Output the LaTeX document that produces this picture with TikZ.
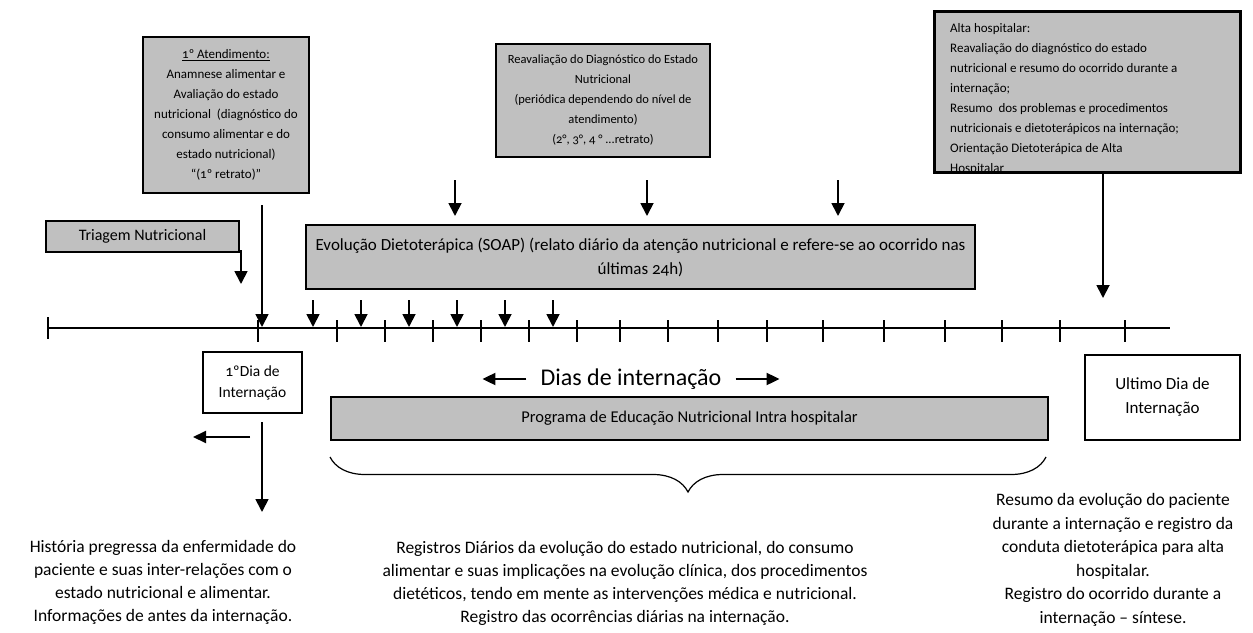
\documentclass[tikz,border=0pt]{standalone}
\usepackage{fontspec}
\setmainfont{Carlito}[Numbers=OldStyle]
\usetikzlibrary{arrows.meta,decorations.pathreplacing}
\tikzset{
  gbox/.style={draw=black,fill=boxgray,line width=1.6pt,inner sep=0pt,align=center},
  wbox/.style={draw=black,fill=white,line width=1.4pt,inner sep=0pt,align=center},
  varrow/.style={line width=1.8pt,-{Triangle[width=13pt,length=13pt]}},
  harrow/.style={line width=2pt,-{Triangle[width=12pt,length=13pt]}},
  tline/.style={line width=1.8pt},
  tick/.style={line width=1.6pt},
  plain/.style={align=center,inner sep=0pt},
}
\definecolor{boxgray}{HTML}{C0C0C0}
\begin{document}
\begin{tikzpicture}[x=1pt,y=-1pt]
\useasboundingbox (0,0) rectangle (1253,632);

% --- top boxes
\node[gbox,minimum width=166pt,minimum height=156pt,font=\fontsize{13}{20}\selectfont] (aten) at (226,115)
 {\underline{1º Atendimento:}\\Anamnese alimentar e\\Avaliação do estado\\nutricional~ (diagnóstico do\\consumo alimentar e do\\estado nutricional)\\“(1º retrato)”};

\node[gbox,minimum width=214pt,minimum height=113pt,font=\fontsize{12.5}{20}\selectfont] (reav) at (603,100.5)
 {Reavaliação do Diagnóstico do Estado\\Nutricional\\(periódica dependendo do nível de\\atendimento)\\(2°, 3°, 4 ° ...retrato)};

\node[gbox,minimum width=305pt,minimum height=160pt] (alta) at (1087.5,92) {};
\begin{scope}
\clip (alta.south west) rectangle (alta.north east);
\node[anchor=north west,align=left,inner sep=0pt,font=\fontsize{13}{20}\selectfont] (altatext) at (950,23)
 {Alta hospitalar:\\Reavaliação do diagnóstico do estado\\nutricional e resumo do ocorrido durante a\\internação;\\Resumo~ dos problemas e procedimentos\\nutricionais e dietoterápicos na internação;\\Orientação Dietoterápica de Alta\\Hospitalar};
\end{scope}
\draw[line width=1.6pt] (alta.south west) rectangle (alta.north east);

\node[gbox,minimum width=193pt,minimum height=31pt,font=\fontsize{16}{18}\selectfont] (triag) at (142.5,236.5) {Triagem Nutricional};

\node[gbox,minimum width=669pt,minimum height=64pt,font=\fontsize{17}{24}\selectfont] (evol) at (640.5,257)
 {Evolução Dietoterápica (SOAP) (relato diário da atenção nutricional e refere-se ao ocorrido nas\\últimas 24h)};

% --- timeline
\coordinate (t0) at (48,328);
\coordinate (t1) at (1170,328);
\draw[tline] (t0) -- (t1);
\draw[tick] (48,317) -- (48,339);
\foreach \x in {258,337,385,433,481,529,577,620,668,718,767,823,884,945,1002,1060,1125}
  \draw[tick] (\x,320) -- (\x,342);

% arrows onto timeline
\coordinate (atenA) at (262,205); \coordinate (atenB) at (262,327);
\draw[varrow] (atenA) -- (atenB);
\coordinate (triA) at (241,250); \coordinate (triB) at (241,284);
\draw[varrow] (triA) -- (triB);
\foreach \x in {313,361,409,457,505,553}
  \draw[varrow] (\x,300) -- (\x,327);
\foreach \x in {455,647,838}
  \draw[varrow] (\x,180) -- (\x,216);
\coordinate (altaB) at (1103,298);
\draw[varrow] (alta.south -| altaB) -- (altaB);

% --- below the timeline
\node[wbox,minimum width=99pt,minimum height=61pt,font=\fontsize{15.5}{21}\selectfont] (dia1) at (252.5,382.5) {1ºDia de\\Internação};
\node[wbox,minimum width=155pt,minimum height=85pt,font=\fontsize{17}{24}\selectfont] (diaN) at (1162.5,397.5) {Ultimo Dia de\\Internação};

\node[plain,font=\fontsize{24}{26}\selectfont] (dias) at (631,379) {Dias de internação};
\draw[harrow] ([xshift=-14pt]dias.west) -- ++(-44,0);
\draw[harrow] ([xshift=14pt]dias.east) -- ++(44,0);

\node[gbox,minimum width=717pt,minimum height=43pt,font=\fontsize{16.5}{18}\selectfont] (prog) at (689.5,418.5) {Programa de Educação Nutricional Intra hospitalar};

\coordinate (bl) at (330,457); \coordinate (br) at (1046,457);
\draw[line width=1.2pt,decorate,decoration={brace,mirror,amplitude=35pt}] (bl) -- (br);

\coordinate (d1A) at (262,422); \coordinate (d1B) at (262,512);
\draw[varrow] (d1A) -- (d1B);
\coordinate (hA) at (250,437); \coordinate (hB) at (193,437);
\draw[harrow] (hA) -- (hB);

% --- bottom texts
\node[plain,font=\fontsize{17.5}{23}\selectfont] (txtL) at (163,582)
 {História pregressa da enfermidade do\\paciente e suas inter-relações com o\\estado nutricional e alimentar.\\Informações de antes da internação.};
\node[plain,font=\fontsize{17.5}{23}\selectfont] (txtM) at (625,583)
 {Registros Diários da evolução do estado nutricional, do consumo\\alimentar e suas implicações na evolução clínica, dos procedimentos\\dietéticos, tendo em mente as intervenções médica e nutricional.\\Registro das ocorrências diárias na internação.};
\node[plain,font=\fontsize{17.5}{23.5}\selectfont] (txtR) at (1113,560)
 {Resumo da evolução do paciente\\durante a internação e registro da\\conduta dietoterápica para alta\\hospitalar.\\Registro do ocorrido durante a\\internação – síntese.};
\end{tikzpicture}
\end{document}
